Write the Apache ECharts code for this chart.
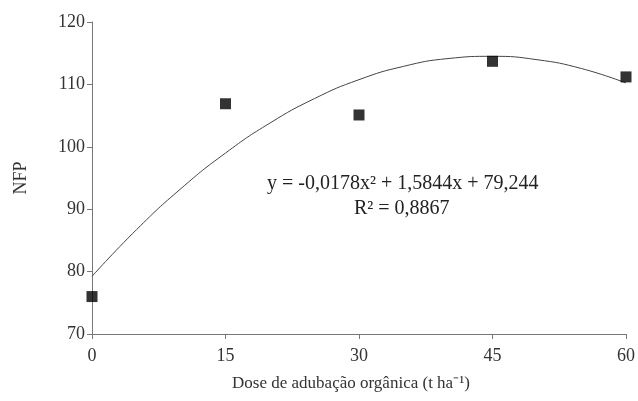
<!DOCTYPE html>
<html><head><meta charset="utf-8">
<script src="https://cdn.jsdelivr.net/npm/echarts@6/dist/echarts.min.js"></script>
<style>html,body{margin:0;padding:0;background:#fff}#c{width:638px;height:401px}</style>
</head><body><div id="c"></div>
<script>
const doses = [0, 15, 30, 45, 60];
const nfp = [76.0, 106.9, 105.1, 113.7, 111.2];
const curveX = [0, 5, 10, 15, 20, 25, 30, 35, 40, 45, 50, 55, 60];
const curveY = [79.24, 86.72, 93.31, 99.00, 103.81, 107.73, 110.76, 112.89, 114.14, 114.50, 113.96, 112.54, 110.23];
const eqText = "y = -0,0178x² + 1,5844x + 79,244";
const r2Text = "R² = 0,8867";
const xTitle = "Dose de adubação orgânica (t ha⁻¹)";
const yTitle = "NFP";

const font = "Liberation Serif";
const chart = echarts.init(document.getElementById('c'));
chart.setOption({
  animation: false,
  textStyle: { fontFamily: font },
  grid: { left: 92, right: 12, top: 22, bottom: 67 },
  xAxis: {
    type: 'value', min: 0, max: 60, interval: 15,
    name: xTitle, nameLocation: 'middle', nameGap: 41,
    nameTextStyle: { fontFamily: font, fontSize: 17, color: '#333', padding: [0, 16, 0, 0] },
    axisLine: { lineStyle: { color: '#777', width: 1 } },
    axisTick: { show: true, inside: false, length: 5, lineStyle: { color: '#777' } },
    axisLabel: { fontFamily: font, fontSize: 18, color: '#333', margin: 13 },
    splitLine: { show: false }
  },
  yAxis: {
    type: 'value', min: 70, max: 120, interval: 10,
    name: yTitle, nameLocation: 'middle', nameGap: 62, nameRotate: 90,
    nameTextStyle: { fontFamily: font, fontSize: 18, color: '#333' },
    axisLine: { show: true, lineStyle: { color: '#777', width: 1 } },
    axisTick: { show: true, inside: false, length: 5, lineStyle: { color: '#777' } },
    axisLabel: { fontFamily: font, fontSize: 18, color: '#333', margin: 7 },
    splitLine: { show: false }
  },
  graphic: [
    { type: 'text', left: 267, top: 174, style: { text: eqText, fontFamily: font, fontSize: 20, fill: '#222' } },
    { type: 'text', left: 354, top: 199, style: { text: r2Text, fontFamily: font, fontSize: 20, fill: '#222' } }
  ],
  series: [
    {
      type: 'line', data: curveX.map((x, i) => [x, curveY[i]]), smooth: true,
      showSymbol: false, lineStyle: { color: '#444', width: 1 }, z: 1
    },
    {
      type: 'scatter', data: doses.map((x, i) => [x, nfp[i]]),
      symbol: 'rect', symbolSize: 11, itemStyle: { color: '#000' }, z: 3
    }
  ]
});
</script></body></html>
